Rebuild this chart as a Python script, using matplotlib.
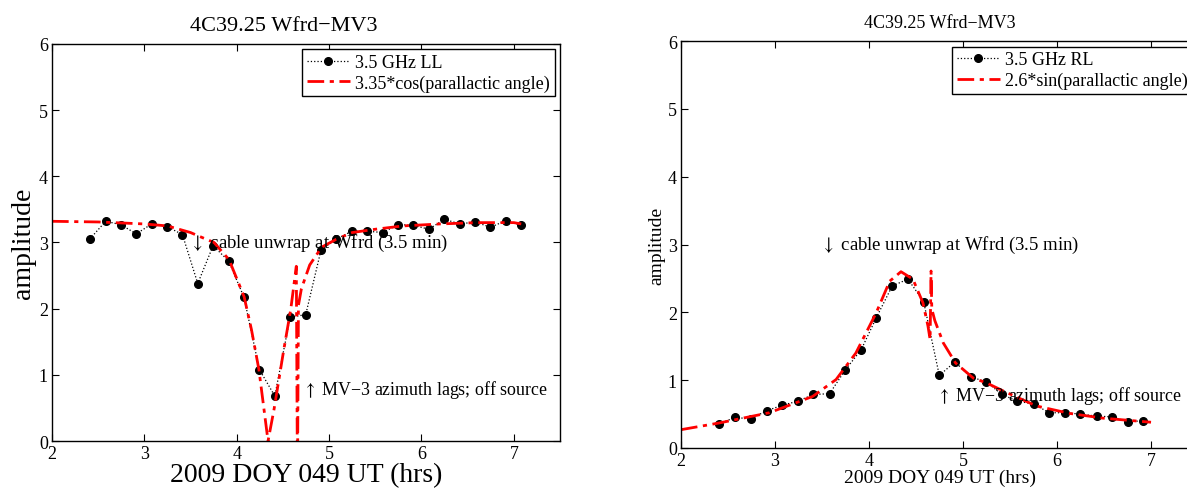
import numpy as np
import matplotlib
matplotlib.use("Agg")
import matplotlib.pyplot as plt

plt.rcParams['font.family'] = ['Liberation Serif', 'DejaVu Serif']
plt.rcParams['mathtext.fontset'] = 'stix'

# --- datos ---
t_ll = [2.408, 2.581, 2.744, 2.913, 3.079, 3.245, 3.412, 3.578, 3.744, 3.913,
        4.079, 4.245, 4.412, 4.578, 4.747, 4.913, 5.079, 5.245, 5.415, 5.581,
        5.747, 5.913, 6.079, 6.249, 6.415, 6.581, 6.747, 6.913, 7.079]
amp_ll = [3.05, 3.32, 3.27, 3.13, 3.28, 3.24, 3.12, 2.38, 2.95, 2.72,
          2.17, 1.08, 0.68, 1.87, 1.91, 2.89, 3.05, 3.17, 3.17, 3.15,
          3.27, 3.26, 3.20, 3.35, 3.28, 3.31, 3.23, 3.33, 3.26]

t_cos = [2.0, 2.5, 3.0, 3.25, 3.4, 3.5, 3.6, 3.754, 3.917, 4.08, 4.16, 4.24,
         4.339, 4.404, 4.51, 4.585, 4.645, 4.655, 4.66, 4.668, 4.70, 4.79,
         4.92, 5.08, 5.25, 5.5, 5.8, 6.2, 6.6, 7.0, 7.08]
amp_cos = [3.32, 3.31, 3.28, 3.25, 3.19, 3.15, 3.09, 3.0, 2.74, 2.18, 1.68, 1.08,
           0.0, 0.48, 1.385, 1.99, 2.64, 0.0, 0.0, 2.05, 2.3, 2.66,
           2.93, 3.05, 3.15, 3.2, 3.25, 3.28, 3.3, 3.3, 3.28]

t_rl = [2.408, 2.575, 2.742, 2.912, 3.076, 3.242, 3.409, 3.58, 3.747, 3.917,
        4.077, 4.247, 4.414, 4.581, 4.748, 4.914, 5.081, 5.248, 5.415, 5.578,
        5.752, 5.916, 6.082, 6.249, 6.42, 6.583, 6.75, 6.917]
amp_rl = [0.36, 0.45, 0.43, 0.55, 0.63, 0.69, 0.79, 0.80, 1.15, 1.45,
          1.92, 2.39, 2.49, 2.16, 1.07, 1.27, 1.05, 0.975, 0.79, 0.69,
          0.65, 0.52, 0.52, 0.50, 0.47, 0.46, 0.39, 0.40]

t_sin = [2.0, 2.41, 2.94, 3.40, 3.65, 3.86, 4.077, 4.22, 4.34, 4.467, 4.574,
         4.627, 4.65, 4.66, 4.668, 4.70, 4.79, 4.92, 5.11, 5.25, 5.43, 5.78,
         6.135, 6.49, 7.0]
amp_sin = [0.27, 0.37, 0.52, 0.76, 1.01, 1.40, 1.995, 2.46, 2.60, 2.49, 2.14,
           1.80, 1.6, 2.61, 2.05, 1.88, 1.55, 1.255, 1.03, 0.96, 0.84, 0.62,
           0.51, 0.44, 0.38]

titulo = "4C39.25 Wfrd\u2212MV3"
xlab = "2009 DOY 049 UT (hrs)"
nota_cable = r"$\downarrow$ cable unwrap at Wfrd (3.5 min)"
nota_mv3 = "$\\uparrow$ MV\u22123 azimuth lags; off source"


def panel(ax, t, amp, tm, am, lab_data, lab_model, fs_title, fs_lab, fs_tick, fs_leg,
          fs_note, title_x=0.5):
    ax.plot(t, amp, color="black", ls=":", lw=0.9, marker="o", ms=5.5, label=lab_data)
    ax.plot(tm, am, color="red", ls="-.", lw=2.0, dashes=(6, 2, 1.5, 2), label=lab_model)
    ax.set_xlim(2, 7.5)
    ax.set_ylim(0, 6)
    ax.set_xticks([2, 3, 4, 5, 6, 7])
    ax.set_yticks([0, 1, 2, 3, 4, 5, 6])
    ax.tick_params(direction="in", top=True, right=True, length=5, labelsize=fs_tick, pad=3)
    for s in ax.spines.values():
        s.set_linewidth(1.0)
    ax.set_title(titulo, fontsize=fs_title, pad=10, x=title_x)
    ax.set_xlabel(xlab, fontsize=fs_lab, labelpad=0)
    ax.set_ylabel("amplitude", fontsize=fs_lab, labelpad=2)
    ax.text(3.49, 3.0, nota_cable, fontsize=fs_note, va="center", ha="left")
    ax.text(4.72, 0.78, nota_mv3, fontsize=fs_note - 0.6, va="center", ha="left")
    leg = ax.legend(loc="upper right", fontsize=fs_leg, numpoints=1, fancybox=False,
                    framealpha=1, edgecolor="black", borderaxespad=0.3,
                    handlelength=2.4, handletextpad=0.3, borderpad=0.25, labelspacing=0.2)
    leg.get_frame().set_linewidth(1.0)


fig = plt.figure(figsize=(11.87, 4.89), dpi=100)
ax1 = fig.add_axes([0.0438, 0.0961, 0.428, 0.812])
ax2 = fig.add_axes([0.5737, 0.0818, 0.4356, 0.832])

panel(ax1, t_ll, amp_ll, t_cos, amp_cos, "3.5 GHz LL", "3.35*cos(parallactic angle)",
      16, 20, 13, 13, 13.5, title_x=0.457)
panel(ax2, t_rl, amp_rl, t_sin, amp_sin, "3.5 GHz RL", "2.6*sin(parallactic angle)",
      13, 14, 13, 13, 13.5)

fig.savefig("out.png", dpi=100)
